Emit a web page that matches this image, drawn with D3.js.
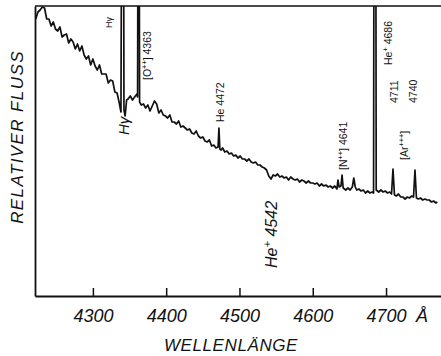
<!DOCTYPE html>
<html><head><meta charset="utf-8">
<script src="https://cdn.jsdelivr.net/npm/d3@7"></script>
<style>body{margin:0;background:#fff}svg{display:block}</style>
</head><body>
<svg id="c" width="441" height="356"></svg>
<script>
// Spectrum: [wavelength (Å), relative flux (arbitrary units)]
const spectrum = [
[4222,277],[4225,284],[4228,286],[4231,289],[4234,288],[4237,277],[4240,277],[4243,270],[4246,274],[4249,267],
[4252,265],[4255,269],[4258,259],[4261,261],[4264,262],[4267,253],[4270,257],[4273,254],[4276,247],[4279,252],
[4282,245],[4285,250],[4288,241],[4291,237],[4294,240],[4297,231],[4300,237],[4303,230],[4306,226],[4309,231],
[4312,222],[4315,222],[4318,222],[4321,213],[4324,216],[4327,215],[4330,204],[4333,203],[4336,193],[4338.3,184],
[4339.3,420],[4341.8,420],[4342.4,186],[4344,180],[4346,196],[4348,197],[4351,200],[4354,196],[4357,199],[4360,202],
[4361,199],[4361.6,420],[4363.1,420],[4363.7,194],[4366,191],[4369,192],[4372,188],[4375,191],[4378,185],[4381,190],
[4384,195],[4387,192],[4390,183],[4393,186],[4396,181],[4399,180],[4402,178],[4405,181],[4408,174],[4411,174],
[4414,172],[4417,175],[4420,169],[4423,170],[4426,168],[4429,166],[4432,167],[4435,163],[4438,162],[4441,165],
[4444,160],[4447,158],[4450,159],[4453,155],[4456,154],[4459,156],[4462,150],[4465,151],[4468,148],[4470.8,149],
[4472,168],[4473.2,147],[4475,146],[4477,148],[4480,144],[4483,145],[4486,142],[4489,143],[4492,140],[4495,141],
[4498,138],[4501,140],[4504,137],[4507,137],[4510,135],[4513,137],[4516,134],[4519,133],[4522,134],[4525,131],
[4528,131],[4531,129],[4534,128],[4537,126],[4540,120],[4543,117],[4546,121],[4549,120],[4552,122],[4555,119],
[4558,120],[4561,118],[4564,119],[4567,116],[4570,119],[4573,117],[4576,116],[4579,117],[4582,114],[4585,116],
[4588,115],[4591,113],[4594,115],[4597,113],[4600,113],[4603,112],[4606,113],[4609,110],[4612,112],[4615,110],
[4618,111],[4621,109],[4624,110],[4627,108],[4630,110],[4633,107],[4634.4,116],[4636,109],[4638.5,110],[4640,121],
[4641.5,108],[4645,106],[4648,108],[4651,106],[4654,109],[4656,118],[4658,109],[4660,106],[4663,107],[4666,105],
[4669,106],[4672,103],[4675,105],[4678,103],[4681,104],[4683,103],[4683.6,420],[4686,420],[4686.6,106],[4690,104],
[4693,106],[4696,104],[4699,105],[4702,103],[4705,104],[4707.5,102],[4709.5,127],[4711.5,101],[4714,100],[4717,102],
[4720,99],[4723,99],[4726,97],[4729,99],[4732,98],[4735,100],[4737.5,99],[4739.5,126],[4741.5,98],[4744,97],
[4747,98],[4750,96],[4753,97],[4756,96],[4759,96],[4762,94],[4765,95],[4768,93],[4770,94]
];
const xTicks = [4300, 4400, 4500, 4600, 4700];
const xUnit = "Å";
const xTitle = "WELLENLÄNGE";
const yTitle = "RELATIVER FLUSS";
// line identifications: text parts ([text, isSuperscript])
const lineLabelTexts = [
  [["Hγ"]],
  [["[O"],["++",1],["] 4363"]],
  [["Hγ"]],
  [["He 4472"]],
  [["He"],["+",1],[" 4542"]],
  [["[N"],["++",1],["] 4641"]],
  [["He"],["+",1],[" 4686"]],
  [["4711"]],
  [["[Ar"],["+++",1],["]"]],
  [["4740"]]
];

const L = 35, R = 441, T = 6, B = 296;
const svg = d3.select("#c");
const x = d3.scaleLinear().domain([4221, 4775]).range([L, R]);
const y = d3.scaleLinear().domain([0, 290]).range([B, T]);

svg.append("defs").append("clipPath").attr("id","clip")
  .append("rect").attr("x", L).attr("y", T).attr("width", R - L).attr("height", B - T);

// spectrum trace
svg.append("path").datum(spectrum)
  .attr("clip-path","url(#clip)")
  .attr("fill","none").attr("stroke","#111").attr("stroke-width",1.7)
  .attr("stroke-linejoin","round")
  .attr("d", d3.line().x(d => x(d[0])).y(d => y(d[1])));

// axes
const xAxis = d3.axisBottom(x).tickValues(xTicks).tickFormat(d3.format("d"))
  .tickSizeInner(-8).tickSizeOuter(0).tickPadding(13);
const gx = svg.append("g").attr("transform",`translate(0,${B})`).call(xAxis);
gx.select(".domain").attr("stroke","#111").attr("stroke-width",1.8);
gx.selectAll(".tick line").attr("stroke","#111").attr("stroke-width",1.5);
gx.selectAll(".tick text").attr("font-family","Liberation Sans, Arial, sans-serif")
  .attr("font-style","italic").attr("font-size",18).attr("fill","#111");

const yAxis = d3.axisLeft(y).tickValues([]).tickSizeOuter(0);
const gy = svg.append("g").attr("transform",`translate(${L},0)`).call(yAxis);
gy.select(".domain").attr("stroke","#111").attr("stroke-width",1.8);

// top frame line
svg.append("line").attr("x1", L).attr("x2", R).attr("y1", T).attr("y2", T)
  .attr("stroke","#111").attr("stroke-width",1.6);

// unit
svg.append("text").attr("x", x(4749)).attr("y", B + 26).attr("text-anchor","middle")
  .attr("font-family","Liberation Sans, Arial, sans-serif").attr("font-style","italic")
  .attr("font-size",18).attr("fill","#111").text(xUnit);

// axis titles
svg.append("text").attr("x", 231).attr("y", 351).attr("text-anchor","middle")
  .attr("font-family","Liberation Sans, Arial, sans-serif").attr("font-style","italic")
  .attr("font-size",17).attr("letter-spacing",0.6).attr("fill","#111").text(xTitle);
svg.append("text").attr("transform","translate(23,137) rotate(-90)").attr("text-anchor","middle")
  .attr("font-family","Liberation Sans, Arial, sans-serif").attr("font-style","italic")
  .attr("font-size",17).attr("letter-spacing",1.4).attr("fill","#111").text(yTitle);

// vertical labels
function vtext(parts, wl, fl, size, italic) {
  const t = svg.append("text")
    .attr("transform",`translate(${x(wl)},${y(fl)}) rotate(-90)`)
    .attr("font-family","Liberation Sans, Arial, sans-serif")
    .attr("font-size", size).attr("fill","#111")
    .attr("font-style", italic ? "italic" : "normal");
  let raised = false;
  parts.forEach(([s, sup]) => {
    const ts = t.append("tspan").text(s);
    if (sup && !raised) { ts.attr("dy", -size*0.4).attr("font-size", size*0.7); raised = true; }
    else if (!sup && raised) { ts.attr("dy", size*0.4); raised = false; }
  });
}
const labelLayout = [
  [4326.5, 268, 9, false],
  [4379.3, 216, 10.5, false],
  [4349.3, 161, 15, true],
  [4478.5, 174, 10.5, false],
  [4551.2, 28, 16, true],
  [4646.7, 126, 10.5, false],
  [4708.1, 231, 10.5, false],
  [4716.3, 193, 10.5, false],
  [4730.0, 136, 10.5, false],
  [4742.2, 193, 10.5, false]
];
lineLabelTexts.forEach((p, i) => {
  const [wl, fl, sz, it] = labelLayout[i];
  vtext(p, wl, fl, sz, it);
});
</script>
</body></html>
